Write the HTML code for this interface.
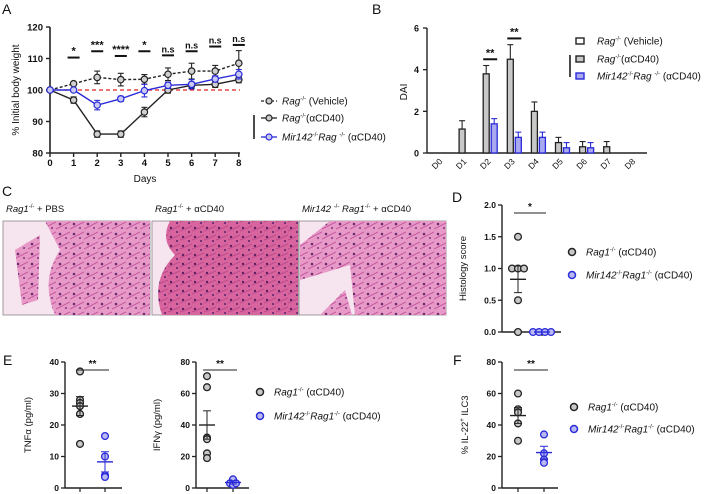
<!DOCTYPE html>
<html><head><meta charset="utf-8"><style>
html,body{margin:0;padding:0;background:#fff;}
svg{display:block;font-family:"Liberation Sans",Arial,sans-serif;}
</style></head><body>
<svg id="fig" width="721" height="494" viewBox="0 0 721 494" xmlns="http://www.w3.org/2000/svg">
<defs>
<pattern id="tis1" width="14" height="10" patternUnits="userSpaceOnUse"><rect width="14" height="10" fill="#e79ac7"/><circle cx="4" cy="4" r="1.3" fill="#6a2a6e"/><circle cx="10" cy="8" r="1" fill="#7e3580"/><path d="M0 9 L14 2" stroke="#c6579f" stroke-width="1"/></pattern>
<pattern id="tis2" width="12" height="9" patternUnits="userSpaceOnUse"><rect width="12" height="9" fill="#d9659f"/><circle cx="3" cy="3" r="1.2" fill="#5a1f60"/><circle cx="9" cy="7" r="1.1" fill="#6e2a72"/><path d="M0 6 L12 1" stroke="#b94a8c" stroke-width="1"/></pattern>
</defs>
</svg>
<script>
// ---------- Panel A data ----------
const daysA = [0,1,2,3,4,5,6,7,8];
const vehMean = [100,102,104,103.3,103.4,105,106,106,108.5];
const vehErr  = [0,0.5,2,2,1.5,2,2.5,1.8,4];
const cdMean  = [100,96.8,86,86,93,100,101.5,101.8,103.3];
const cdErr   = [0,1,1,1,1.5,1,1,1,1];
const mirMean = [100,100,95.2,97.2,99.8,101.5,101.8,103.5,105];
const mirErr  = [0,0.5,1.5,0.8,2,1,1.5,1,1.5];
const sigLabelsA = ["*","***","****","*","n.s","n.s","n.s","n.s"];
const sigLevelA = [110.3,112.3,110.8,112.3,111,112.3,113.8,114.3];
const yTicksA = [80,90,100,110,120];
// ---------- Panel B data ----------
const catsB = ["D0","D1","D2","D3","D4","D5","D6","D7","D8"];
const vehB = [0,0,0,0,0,0,0,0,0];
const cdB = [0,1.15,3.8,4.5,2.0,0.5,0.3,0.3,0];
const cdBErr = [0,0.4,0.4,0.7,0.45,0.25,0.25,0.25,0];
const mirB = [0,0,1.4,0.75,0.75,0.25,0.25,0,0];
const mirBErr = [0,0,0.25,0.25,0.25,0.25,0.25,0,0];
const yTicksB = [0,2,4,6];
// ---------- Panel D/E/F data ----------
const histG1 = [1.5,1,1,1,0.5,0];
const histG2 = [0,0,0,0];
const histStats = [0.83,0.21,0,0];
const tnfG1 = [37,28,27,26,23.5,14];
const tnfG2 = [16.5,10,4,3.5];
const tnfStats = [26,3,8.3,3.2];
const ifnG1 = [71,64,32,31,22,19];
const ifnG2 = [5.5,3,2,3];
const ifnStats = [40,9,3.5,1];
const ilcG1 = [60,50,48,41,30];
const ilcG2 = [34,22,18,16];
const ilcStats = [46,5,22.5,4];

const svg = document.getElementById('fig');
const NS = 'http://www.w3.org/2000/svg';
function mk(tag, attrs, parent){const e=document.createElementNS(NS,tag);for(const k in attrs)e.setAttribute(k,attrs[k]);(parent||svg).appendChild(e);return e;}
function txt(x,y,s,size,anchor,parent,extra){const t=mk('text',Object.assign({x:x,y:y,'font-size':size,'text-anchor':anchor||'start',fill:'#111'},extra||{}),parent);t.innerHTML=s;return t;}

// ===== Panel A =====
const gA = mk('g',{});


const xA = d => 50 + d*23.6;
const yA = v => 153 - (v-80)*3.15;
txt(2,14,'A',14,'start',gA);
mk('line',{x1:50,y1:27,x2:50,y2:153,stroke:'#222','stroke-width':1.6},gA);
mk('line',{x1:50,y1:153,x2:240,y2:153,stroke:'#222','stroke-width':1.6},gA);
yTicksA.forEach(v=>{mk('line',{x1:46,y1:yA(v),x2:50,y2:yA(v),stroke:'#222','stroke-width':1.4},gA);txt(43,yA(v)+3.5,v,9.5,'end',gA,{'font-weight':'bold'});});
daysA.forEach(d=>{mk('line',{x1:xA(d),y1:153,x2:xA(d),y2:157,stroke:'#222','stroke-width':1.4},gA);txt(xA(d),166,d,9.5,'middle',gA,{'font-weight':'bold'});});
txt(145,182,'Days',10,'middle',gA);
const yl=txt(0,0,'% Initial body weight',10,'middle',gA);yl.setAttribute('transform','translate(19,90) rotate(-90)');
mk('line',{x1:50,y1:yA(100),x2:240,y2:yA(100),stroke:'#e02020','stroke-width':1.3,'stroke-dasharray':'4,3'},gA);
function series(mean,err,color,dash,name){
  const g=mk('g',{},gA);
  
  
  mk('polyline',{points:mean.map((v,i)=>xA(daysA[i])+','+yA(v)).join(' '),fill:'none',stroke:color,'stroke-width':1.4,'stroke-dasharray':dash||'none'},g);
  mean.forEach((v,i)=>{const x=xA(daysA[i]);if(err[i]>0){mk('line',{x1:x,y1:yA(v-err[i]),x2:x,y2:yA(v+err[i]),stroke:color,'stroke-width':1.1},g);[v-err[i],v+err[i]].forEach(w=>mk('line',{x1:x-3,y1:yA(w),x2:x+3,y2:yA(w),stroke:color,'stroke-width':1.1},g));}
    mk('circle',{cx:x,cy:yA(v),r:3.2,fill:color==='#2a2ad8'?'#c9c9f2':'#d0d0d0',stroke:color,'stroke-width':1.2},g);});
}
series(vehMean,vehErr,'#222','3,2','series-vehicle');
series(cdMean,cdErr,'#222',null,'series-acd40');
series(mirMean,mirErr,'#2a2ad8',null,'series-mir142-acd40');
sigLabelsA.forEach((s,i)=>{const x=xA(i+1),y=yA(sigLevelA[i]);mk('line',{x1:x-6,y1:y,x2:x+6,y2:y,stroke:'#111','stroke-width':2},gA);txt(x,y-3,s,s==='n.s'?9:11,'middle',gA,{'font-weight':'bold'});});
// legend A
const lgA=mk('g',{},gA);


[[101,'#222','3,2','<tspan font-style="italic">Rag</tspan><tspan font-size="6" dy="-4">-/-</tspan><tspan dy="4"> (Vehicle)</tspan>'],
 [118,'#222',null,'<tspan font-style="italic">Rag</tspan><tspan font-size="6" dy="-4">-/-</tspan><tspan dy="4">(αCD40)</tspan>'],
 [137,'#2a2ad8',null,'<tspan font-style="italic">Mir142</tspan><tspan font-size="6" dy="-4">-/-</tspan><tspan dy="4" font-style="italic">Rag </tspan><tspan font-size="6" dy="-4">-/-</tspan><tspan dy="4"> (αCD40)</tspan>']].forEach(r=>{
  mk('line',{x1:261,y1:r[0],x2:277,y2:r[0],stroke:r[1],'stroke-width':1.3,'stroke-dasharray':r[2]||'none'},lgA);
  mk('circle',{cx:269,cy:r[0],r:3,fill:r[1]==='#222'?'#ccc':'#c9c9f2',stroke:r[1],'stroke-width':1.2},lgA);
  txt(282,r[0]+3.5,r[3],10,'start',lgA);
});
mk('line',{x1:254,y1:115,x2:254,y2:139,stroke:'#111','stroke-width':1.5},lgA);

// ===== Panel B =====
const gB=mk('g',{});


const xB = i => 440 + i*24.1;
const yB = v => 153 - v*20.83;
txt(372,14,'B',14,'start',gB);
mk('line',{x1:427,y1:28,x2:427,y2:153,stroke:'#222','stroke-width':1.4},gB);
mk('line',{x1:427,y1:153,x2:647,y2:153,stroke:'#222','stroke-width':1.4},gB);
yTicksB.forEach(v=>{mk('line',{x1:423,y1:yB(v),x2:427,y2:yB(v),stroke:'#222','stroke-width':1.3},gB);txt(419,yB(v)+3.5,v,9,'end',gB,{'font-weight':'bold'});});
catsB.forEach((c,i)=>{const t=txt(0,0,c,8.5,'end',gB);t.setAttribute('transform','translate('+(xB(i)+3)+',162) rotate(-45)');});
const yb=txt(0,0,'DAI',10,'middle',gB);yb.setAttribute('transform','translate(407,92) rotate(-90)');
function barB(i,v,e,fill,stroke,off,name){if(v<=0)return;const x=xB(i)+off;
  const r=mk('rect',{x:x-3,y:yB(v),width:6,height:yB(0)-yB(v),fill:fill,stroke:stroke,'stroke-width':1.3},gB);
  
  
  if(e>0){mk('line',{x1:x,y1:yB(v),x2:x,y2:yB(v+e),stroke:stroke,'stroke-width':1.1},gB);mk('line',{x1:x-3,y1:yB(v+e),x2:x+3,y2:yB(v+e),stroke:stroke,'stroke-width':1.1},gB);}}
catsB.forEach((c,i)=>{barB(i,vehB[i],0,'#fff','#222',-10,'bar-vehicle-'+c);barB(i,cdB[i],cdBErr[i],'#c8c8c8','#222',-2,'bar-acd40-'+c);barB(i,mirB[i],mirBErr[i],'#a9a9f0','#2a2ad8',6,'bar-mir142-'+c);});
[[2,4.5],[3,5.5]].forEach(s=>{const x=xB(s[0])+2,y=yB(s[1]);mk('line',{x1:x-7,y1:y,x2:x+7,y2:y,stroke:'#111','stroke-width':2},gB);txt(x,y-3,'**',11,'middle',gB,{'font-weight':'bold'});});
const lgB=mk('g',{},gB);


[[41,'#fff','#222','<tspan font-style="italic">Rag</tspan><tspan font-size="6" dy="-4">-/-</tspan><tspan dy="4"> (Vehicle)</tspan>'],
 [59,'#c8c8c8','#222','<tspan font-style="italic">Rag</tspan><tspan font-size="6" dy="-4">-/-</tspan><tspan dy="4">(αCD40)</tspan>'],
 [76,'#a9a9f0','#2a2ad8','<tspan font-style="italic">Mir142</tspan><tspan font-size="6" dy="-4">-/-</tspan><tspan dy="4" font-style="italic">Rag </tspan><tspan font-size="6" dy="-4">-/-</tspan><tspan dy="4"> (αCD40)</tspan>']].forEach(r=>{
  mk('rect',{x:576,y:r[0]-3,width:8,height:6,fill:r[1],stroke:r[2],'stroke-width':1.4},lgB);
  txt(597,r[0]+3.5,r[3],10,'start',lgB);
});
mk('line',{x1:570,y1:55,x2:570,y2:77,stroke:'#111','stroke-width':1.5},lgB);

// ===== Panel C =====
const gC=mk('g',{});


txt(2,196,'C',14,'start',gC);
const imgs=[[3,150,'tis1','<tspan font-style="italic">Rag1</tspan><tspan font-size="6" dy="-4">-/-</tspan><tspan dy="4"> + PBS</tspan>'],
 [152,298,'tis2','<tspan font-style="italic">Rag1</tspan><tspan font-size="6" dy="-4">-/-</tspan><tspan dy="4"> + αCD40</tspan>'],
 [299,446,'tis1','<tspan font-style="italic">Mir142 </tspan><tspan font-size="6" dy="-4">-/-</tspan><tspan dy="4" font-style="italic"> Rag1</tspan><tspan font-size="6" dy="-4">-/-</tspan><tspan dy="4"> + αCD40</tspan>']];
imgs.forEach((m,i)=>{
  const g=mk('g',{},gC);
  
  
  mk('rect',{x:m[0],y:221,width:m[1]-m[0],height:94,fill:'#f6e4ef',stroke:'#888','stroke-width':0.8},g);
  if(i===0){mk('path',{d:'M45 221 L150 221 L150 315 L55 315 Q40 280 60 250 Z',fill:'url(#tis1)'},g);mk('path',{d:'M15 250 L40 235 L38 300 L22 305 Z',fill:'url(#tis1)'},g);}
  if(i===1){mk('path',{d:'M170 221 L298 221 L298 315 L162 315 Q150 280 175 255 Q160 240 170 221 Z',fill:'url(#tis2)'},g);}
  if(i===2){mk('path',{d:'M330 221 L446 221 L446 315 L355 315 L350 265 L300 280 L300 245 Z',fill:'url(#tis1)'},g);mk('path',{d:'M320 315 L345 290 L352 315 Z',fill:'url(#tis1)'},g);}
  txt(m[0]+3,212,m[3],9.5,'start',gC);
});

// ===== dot plots =====
function dotPlot(opts){
  const g=mk('g',{});
  
  
  const y=v=>opts.y0-(v/opts.max)*(opts.y0-opts.yTop);
  mk('line',{x1:opts.ax,y1:opts.yTop,x2:opts.ax,y2:opts.y0,stroke:'#222','stroke-width':1.4},g);
  mk('line',{x1:opts.ax,y1:opts.y0,x2:opts.axEnd,y2:opts.y0,stroke:'#222','stroke-width':1.4},g);
  opts.ticks.forEach((v,k)=>{mk('line',{x1:opts.ax-4,y1:y(v),x2:opts.ax,y2:y(v),stroke:'#222','stroke-width':1.3},g);txt(opts.ax-6,y(v)+3,opts.tickLabels[k],8.5,'end',g,{'font-weight':'bold'});});
  [opts.x1,opts.x2].forEach(x=>mk('line',{x1:x,y1:opts.y0,x2:x,y2:opts.y0+4,stroke:'#222','stroke-width':1.2},g));
  const yl=txt(0,0,opts.label,9.5,'middle',g);yl.setAttribute('transform','translate('+opts.lx+','+((opts.y0+opts.yTop)/2)+') rotate(-90)');
  function grp(vals,x,fill,stroke,m,se,nm){
    const cnt={};
    vals.forEach(v=>{cnt[v]=(cnt[v]||0)+1;});
    const seen={};
    vals.forEach(v=>{const n=cnt[v];seen[v]=(seen[v]||0);const dx=(seen[v]-(n-1)/2)*6;seen[v]++;
      const c=mk('circle',{cx:x+dx,cy:y(v),r:3.4,fill:fill,stroke:stroke,'stroke-width':1.3},g);
      
      });
    mk('line',{x1:x-8,y1:y(m),x2:x+8,y2:y(m),stroke:stroke,'stroke-width':1.4},g);
    if(se>0){mk('line',{x1:x,y1:y(m-se),x2:x,y2:y(m+se),stroke:stroke,'stroke-width':1},g);[m-se,m+se].forEach(w=>mk('line',{x1:x-4,y1:y(w),x2:x+4,y2:y(w),stroke:stroke,'stroke-width':1},g));}
  }
  grp(opts.g1,opts.x1,'#c8c8c8','#222',opts.stats[0],opts.stats[1],'point-rag1');
  grp(opts.g2,opts.x2,'#b9b9f2','#2a2ad8',opts.stats[2],opts.stats[3],'point-mir142');
  const sy=opts.yTop+8;
  mk('line',{x1:opts.x1-4,y1:sy,x2:opts.x2+4,y2:sy,stroke:'#222','stroke-width':0.9},g);
  txt((opts.x1+opts.x2)/2,sy-3,opts.sig,10,'middle',g,{'font-weight':'bold'});
  return g;
}
function legend(x,y1,y2,name){
  const g=mk('g',{});
  
  
  mk('circle',{cx:x,cy:y1,r:3.5,fill:'#c8c8c8',stroke:'#222','stroke-width':1.5},g);
  mk('circle',{cx:x,cy:y2,r:3.5,fill:'#b9b9f2',stroke:'#2a2ad8','stroke-width':1.5},g);
  txt(x+14,y1+3.5,'<tspan font-style="italic">Rag1</tspan><tspan font-size="6" dy="-4">-/-</tspan><tspan dy="4"> (αCD40)</tspan>',10,'start',g);
  txt(x+14,y2+3.5,'<tspan font-style="italic">Mir142</tspan><tspan font-size="6" dy="-4">-/-</tspan><tspan dy="4" font-style="italic">Rag1</tspan><tspan font-size="6" dy="-4">-/-</tspan><tspan dy="4"> (αCD40)</tspan>',10,'start',g);
}
txt(452,202,'D',14,'start');
dotPlot({name:'panel-d-histology-score',ax:502,axEnd:561,yTop:205,y0:332,max:2,ticks:[0,0.5,1,1.5,2],tickLabels:['0.0','0.5','1.0','1.5','2.0'],x1:518,x2:542,g1:histG1,g2:histG2,stats:histStats,label:'Histology score',lx:466,sig:'*'});
legend(572,252,275,'legend-d');
txt(3,365,'E',14,'start');
dotPlot({name:'panel-e-tnf',ax:65,axEnd:122,yTop:362,y0:488,max:40,ticks:[0,10,20,30,40],tickLabels:['0','10','20','30','40'],x1:80,x2:105,g1:tnfG1,g2:tnfG2,stats:tnfStats,label:'TNFα (pg/ml)',lx:31,sig:'**'});
dotPlot({name:'panel-e-ifn',ax:196,axEnd:249,yTop:362,y0:488,max:80,ticks:[0,20,40,60,80],tickLabels:['0','20','40','60','80'],x1:207,x2:233,g1:ifnG1,g2:ifnG2,stats:ifnStats,label:'IFNγ (pg/ml)',lx:160,sig:'**'});
legend(260,392,416,'legend-e');
txt(453,365,'F',14,'start');
dotPlot({name:'panel-f-il22-ilc3',ax:502,axEnd:558,yTop:362,y0:488,max:80,ticks:[0,20,40,60,80],tickLabels:['0','20','40','60','80'],x1:518,x2:544,g1:ilcG1,g2:ilcG2,stats:ilcStats,label:'% IL-22<tspan font-size="6" dy="-4">+</tspan><tspan dy="4"> ILC3</tspan>',lx:468,sig:'**'});
legend(574,407,429,'legend-f');
</script>
</body></html>
